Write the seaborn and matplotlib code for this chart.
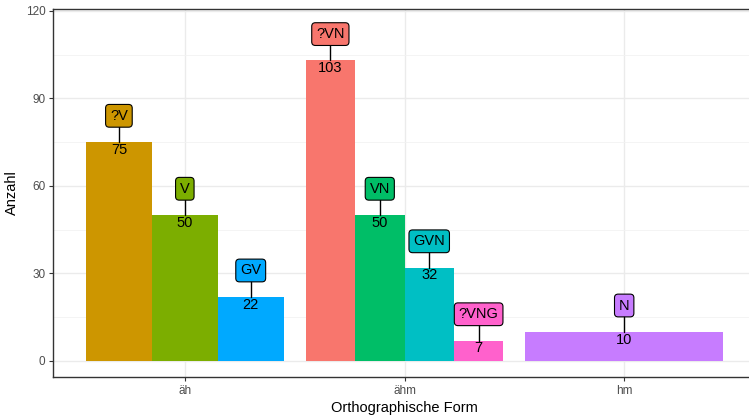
import numpy as np
import matplotlib
matplotlib.use("Agg")
import matplotlib.pyplot as plt
import seaborn as sns

# data
forms = ["äh", "ähm", "hm"]
groups = ["äh", "äh", "äh", "ähm", "ähm", "ähm", "ähm", "hm"]
labels = ["?V", "V", "GV", "?VN", "VN", "GVN", "?VNG", "N"]
counts = [75, 50, 22, 103, 50, 32, 7, 10]

# ggplot default hue palette, level order of the fill variable
levels = ["?VN", "?V", "V", "VN", "GVN", "GV", "N", "?VNG"]
hue_colors = ["#F8766D", "#CD9600", "#7CAE00", "#00BE67",
              "#00BFC4", "#00A9FF", "#C77CFF", "#FF61CC"]
palette = dict(zip(levels, hue_colors))

sns.set_theme(style="white")
plt.rcParams["font.family"] = ["Liberation Sans", "DejaVu Sans"]

fig = plt.figure(figsize=(7.49, 4.15), dpi=100)
ax = fig.add_axes([53 / 749, 1 - 377 / 415, (756 - 53) / 749, (377 - 9) / 415])

dodge = 0.9
for gi, form in enumerate(forms):
    idx = [i for i, g in enumerate(groups) if g == form]
    n = len(idx)
    w = dodge / n
    center = gi + 1
    for k, i in enumerate(idx):
        x = center + (k - (n - 1) / 2) * w
        v = counts[i]
        col = palette[labels[i]]
        ax.bar(x, v, width=w, color=col, linewidth=0, zorder=2)
        ax.plot([x, x], [v, v + 8], color="black", lw=1, zorder=3)
        ax.text(x, v + 9, labels[i], ha="center", va="center", fontsize=10.5,
                color="black", zorder=4,
                bbox=dict(boxstyle="round,pad=0.3,rounding_size=0.25",
                          fc=col, ec="black", lw=0.8))
        ax.text(x, v - 2.7, str(v), ha="center", va="center", fontsize=10.5,
                color="black", zorder=4)

ax.set_xlim(0.4, 3.6)
ax.set_ylim(-5.5, 120.6)
ax.set_xticks([1, 2, 3])
ax.set_xticklabels(forms)
ax.set_yticks([0, 30, 60, 90, 120])
ax.set_yticks([15, 45, 75, 105], minor=True)

ax.grid(True, which="major", color="#EBEBEB", lw=1.0, zorder=0)
ax.grid(True, which="minor", axis="y", color="#F2F2F2", lw=0.6, zorder=0)
ax.set_axisbelow(True)

for s in ax.spines.values():
    s.set_color("#333333")
    s.set_linewidth(1.0)

ax.tick_params(axis="both", which="major", length=3, width=0.8,
               color="#333333", labelcolor="#4D4D4D", labelsize=8.5,
               bottom=True, left=True, pad=2.5)
ax.tick_params(axis="y", which="minor", length=0)

ax.set_xlabel("Orthographische Form", fontsize=10.5, color="black", labelpad=3)
ax.set_ylabel("Anzahl", fontsize=10.5, color="black", labelpad=5)

fig.savefig("out.png", dpi=100)
